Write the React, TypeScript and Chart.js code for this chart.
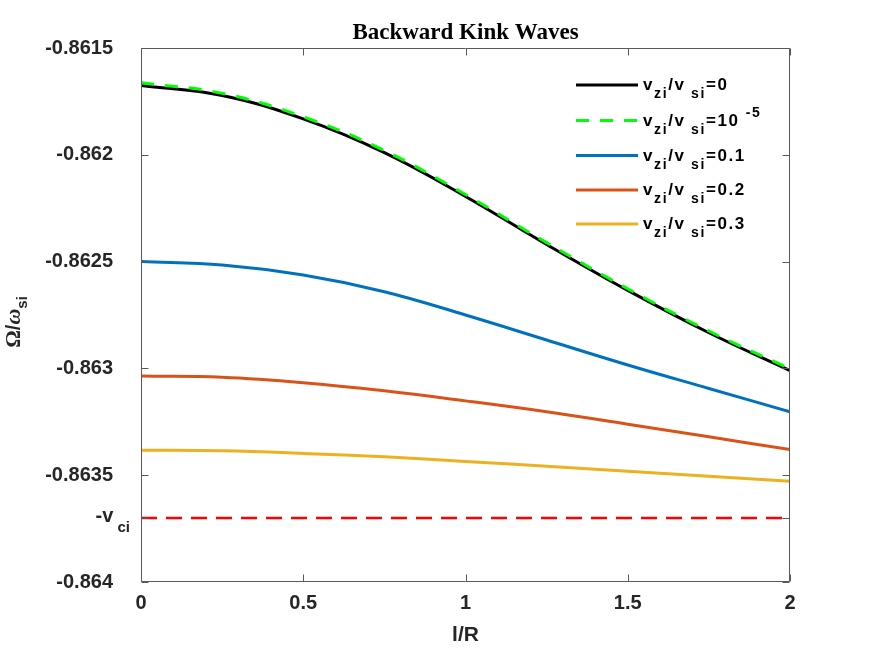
import { useEffect, useRef } from "react";
import { Chart, registerables } from "chart.js";

Chart.register(...registerables);

// ---------- data ----------
const xValues = [0, 0.25, 0.5, 0.75, 1, 1.25, 1.5, 1.75, 2];
const seriesLabels = [
  "v_{zi}/v_{ si}=0",
  "v_{zi}/v_{ si}=10 ^{-5}",
  "v_{zi}/v_{ si}=0.1",
  "v_{zi}/v_{ si}=0.2",
  "v_{zi}/v_{ si}=0.3",
];
const ratio0 = [-0.861675, -0.861722, -0.861832, -0.86199, -0.862195, -0.86242, -0.862635, -0.862833, -0.86301];
const ratio1e5 = [-0.861663, -0.861712, -0.861822, -0.86198, -0.862186, -0.862411, -0.862627, -0.862825, -0.863002];
const ratio01 = [-0.8625, -0.862516, -0.862563, -0.862641, -0.86275, -0.862867, -0.862984, -0.863094, -0.863203];
const ratio02 = [-0.863036, -0.863042, -0.863067, -0.863105, -0.863152, -0.863203, -0.863261, -0.86332, -0.86338];
const ratio03 = [-0.863383, -0.863386, -0.863398, -0.863414, -0.863436, -0.863458, -0.863481, -0.863505, -0.863528];
const vciX = [0, 2];
const vciValue = -0.8637;
const xTicks = [0, 0.5, 1, 1.5, 2];
const yTicks = [-0.864, -0.8637, -0.8635, -0.863, -0.8625, -0.862, -0.8615];
const yTickLabels = ["-0.864", "-v_{ ci}", "-0.8635", "-0.863", "-0.8625", "-0.862", "-0.8615"];
const chartTitle = "Backward Kink Waves";
const xTitle = "l/R";

// ---------- styles ----------
const SANS = '"Liberation Sans", Arial, Helvetica, sans-serif';
const SERIF = '"Liberation Serif", "Times New Roman", serif';
const COLORS = ["#000000", "#00FF00", "#0072BD", "#D95319", "#EDB120"];
const DASHES: number[][] = [[], [13, 11], [], [], []];
const AXIS_COLOR = "#5a5a5a";
const TEXT_COLOR = "#262626";

type Seg = { t: string; kind: "n" | "sub" | "sup" };

function parseRich(s: string): Seg[] {
  const out: Seg[] = [];
  let buf = "";
  let i = 0;
  while (i < s.length) {
    const c = s[i];
    if ((c === "_" || c === "^") && s[i + 1] === "{") {
      if (buf) {
        out.push({ t: buf, kind: "n" });
        buf = "";
      }
      const end = s.indexOf("}", i + 2);
      out.push({ t: s.slice(i + 2, end), kind: c === "_" ? "sub" : "sup" });
      i = end + 1;
    } else {
      buf += c;
      i++;
    }
  }
  if (buf) out.push({ t: buf, kind: "n" });
  return out;
}

function drawRich(
  ctx: CanvasRenderingContext2D,
  text: string,
  x: number,
  y: number,
  o: { main: string; small: string; subDy: number; supDy: number; align: "left" | "right"; spacing: string; color: string }
) {
  const segs = parseRich(text);
  ctx.save();
  (ctx as any).letterSpacing = o.spacing;
  ctx.fillStyle = o.color;
  ctx.textAlign = "left";
  ctx.textBaseline = "alphabetic";
  const widths = segs.map((s) => {
    ctx.font = s.kind === "n" ? o.main : o.small;
    return ctx.measureText(s.t).width;
  });
  const total = widths.reduce((a, b) => a + b, 0);
  let cx = o.align === "right" ? x - total : x;
  segs.forEach((s, k) => {
    ctx.font = s.kind === "n" ? o.main : o.small;
    const dy = s.kind === "sub" ? o.subDy : s.kind === "sup" ? o.supDy : 0;
    ctx.fillText(s.t, cx, y + dy);
    cx += widths[k];
  });
  ctx.restore();
}

const decorPlugin = {
  id: "decor",
  afterDraw(chart: any) {
    const ctx: CanvasRenderingContext2D = chart.ctx;
    const { left, right, top, bottom } = chart.chartArea;
    const xs = chart.scales.x;
    const ys = chart.scales.y;
    const L = Math.round(left) + 0.5;
    const R = Math.round(right) - 0.5;
    const T = Math.round(top) + 0.5;
    const B = Math.round(bottom) - 0.5;
    const tl = 7;

    ctx.save();
    ctx.strokeStyle = AXIS_COLOR;
    ctx.lineWidth = 1;
    ctx.beginPath();
    ctx.rect(L, T, R - L, B - T);
    xTicks.forEach((v) => {
      const px = Math.round(xs.getPixelForValue(v)) + 0.5;
      ctx.moveTo(px, B);
      ctx.lineTo(px, B - tl);
      ctx.moveTo(px, T);
      ctx.lineTo(px, T + tl);
    });
    yTicks.forEach((v) => {
      const py = Math.round(ys.getPixelForValue(v)) + 0.5;
      ctx.moveTo(L, py);
      ctx.lineTo(L + tl, py);
      ctx.moveTo(R, py);
      ctx.lineTo(R - tl, py);
    });
    ctx.stroke();
    ctx.restore();

    // rich y tick labels
    yTicks.forEach((v, i) => {
      const lab = yTickLabels[i];
      if (lab.indexOf("_") >= 0) {
        const py = ys.getPixelForValue(v);
        drawRich(ctx, lab, left - 11, py + 4, {
          main: `bold 20px ${SANS}`,
          small: `bold 15px ${SANS}`,
          subDy: 10,
          supDy: -9,
          align: "right",
          spacing: "0px",
          color: TEXT_COLOR,
        });
      }
    });

    // title
    ctx.save();
    ctx.fillStyle = "#000";
    ctx.font = `bold 23px ${SERIF}`;
    ctx.textAlign = "center";
    ctx.textBaseline = "alphabetic";
    ctx.fillText(chartTitle, (left + right) / 2, 39);
    ctx.restore();

    // x title
    ctx.save();
    ctx.fillStyle = TEXT_COLOR;
    ctx.font = `bold 21px ${SANS}`;
    ctx.textAlign = "center";
    ctx.textBaseline = "alphabetic";
    ctx.fillText(xTitle, (left + right) / 2, 641);
    ctx.restore();

    // y title: Ω/ω_si
    ctx.save();
    ctx.translate(20, 322);
    ctx.rotate(-Math.PI / 2);
    ctx.fillStyle = TEXT_COLOR;
    ctx.textAlign = "left";
    ctx.textBaseline = "alphabetic";
    const ysegs = [
      { t: "Ω", f: `bold 22px ${SERIF}`, dy: 0 },
      { t: "/", f: `bold 20px ${SANS}`, dy: 0 },
      { t: "ω", f: `bold italic 22px ${SERIF}`, dy: 0 },
      { t: "si", f: `bold 15px ${SANS}`, dy: 7 },
    ];
    const yw = ysegs.map((s) => {
      ctx.font = s.f;
      return ctx.measureText(s.t).width;
    });
    let cx = -yw.reduce((a, b) => a + b, 0) / 2;
    ysegs.forEach((s, k) => {
      ctx.font = s.f;
      ctx.fillText(s.t, cx, s.dy);
      cx += yw[k];
    });
    ctx.restore();

    // legend
    const rows = [85, 120.5, 155.5, 190, 224];
    const lx0 = 576;
    const lx1 = 638;
    chart.data.datasets.forEach((ds: any, i: number) => {
      if (i >= seriesLabels.length) return;
      const y = rows[i];
      ctx.save();
      ctx.strokeStyle = ds.borderColor;
      ctx.lineWidth = 3;
      ctx.setLineDash(ds.borderDash || []);
      ctx.beginPath();
      ctx.moveTo(lx0, y);
      ctx.lineTo(lx1, y);
      ctx.stroke();
      ctx.restore();
      drawRich(ctx, ds.label, 643, y + 5, {
        main: `bold 17px ${SANS}`,
        small: `bold 14px ${SANS}`,
        subDy: 8,
        supDy: -9,
        align: "left",
        spacing: "1.6px",
        color: "#000",
      });
    });
  },
};

export default function App() {
  const ref = useRef<HTMLCanvasElement | null>(null);

  useEffect(() => {
    if (!ref.current) return;
    const series = [ratio0, ratio1e5, ratio01, ratio02, ratio03];
    const datasets: any[] = series.map((vals, i) => ({
      label: seriesLabels[i],
      data: xValues.map((x, k) => ({ x, y: vals[k] })),
      borderColor: COLORS[i],
      backgroundColor: COLORS[i],
      borderWidth: 3,
      borderDash: DASHES[i],
      pointRadius: 0,
      tension: 0.4,
      fill: false,
      order: i === 1 ? 0 : i + 1,
    }));
    datasets.push({
      label: "-v_ci",
      data: vciX.map((x) => ({ x, y: vciValue })),
      borderColor: "#FF0000",
      borderWidth: 2.5,
      borderDash: [16, 9],
      pointRadius: 0,
      fill: false,
      order: 10,
    });

    const tickFont = { family: SANS, size: 20, weight: "bold" as const };
    const chart = new Chart(ref.current, {
      type: "line",
      data: { datasets },
      options: {
        animation: false,
        responsive: true,
        maintainAspectRatio: false,
        events: [],
        layout: { padding: { top: 48, right: 82, left: 0, bottom: 0 } },
        plugins: {
          legend: { display: false },
          title: { display: false },
          tooltip: { enabled: false },
        },
        scales: {
          x: {
            type: "linear",
            min: 0,
            max: 2,
            afterBuildTicks: (s: any) => {
              s.ticks = xTicks.map((v) => ({ value: v }));
            },
            afterFit: (s: any) => {
              s.height = 72;
            },
            grid: { display: false, drawTicks: false },
            border: { display: false },
            ticks: {
              font: tickFont,
              color: TEXT_COLOR,
              padding: 9,
              maxRotation: 0,
              autoSkip: false,
              callback: (v: any) => String(v),
            },
          },
          y: {
            type: "linear",
            min: -0.864,
            max: -0.8615,
            afterBuildTicks: (s: any) => {
              s.ticks = yTicks.map((v) => ({ value: v }));
            },
            afterFit: (s: any) => {
              s.width = 141;
            },
            grid: { display: false, drawTicks: false },
            border: { display: false },
            ticks: {
              font: tickFont,
              color: TEXT_COLOR,
              padding: 28,
              autoSkip: false,
              callback: (v: any) => {
                const idx = yTicks.indexOf(v);
                const lab = idx >= 0 ? yTickLabels[idx] : String(v);
                return lab.indexOf("_") >= 0 ? "" : lab;
              },
            },
          },
        },
      },
      plugins: [decorPlugin],
    });
    return () => chart.destroy();
  }, []);

  return (
    <div style={{ position: "fixed", left: 0, top: 0, width: 872, height: 654, background: "#fff" }}>
      <canvas ref={ref} />
    </div>
  );
}
